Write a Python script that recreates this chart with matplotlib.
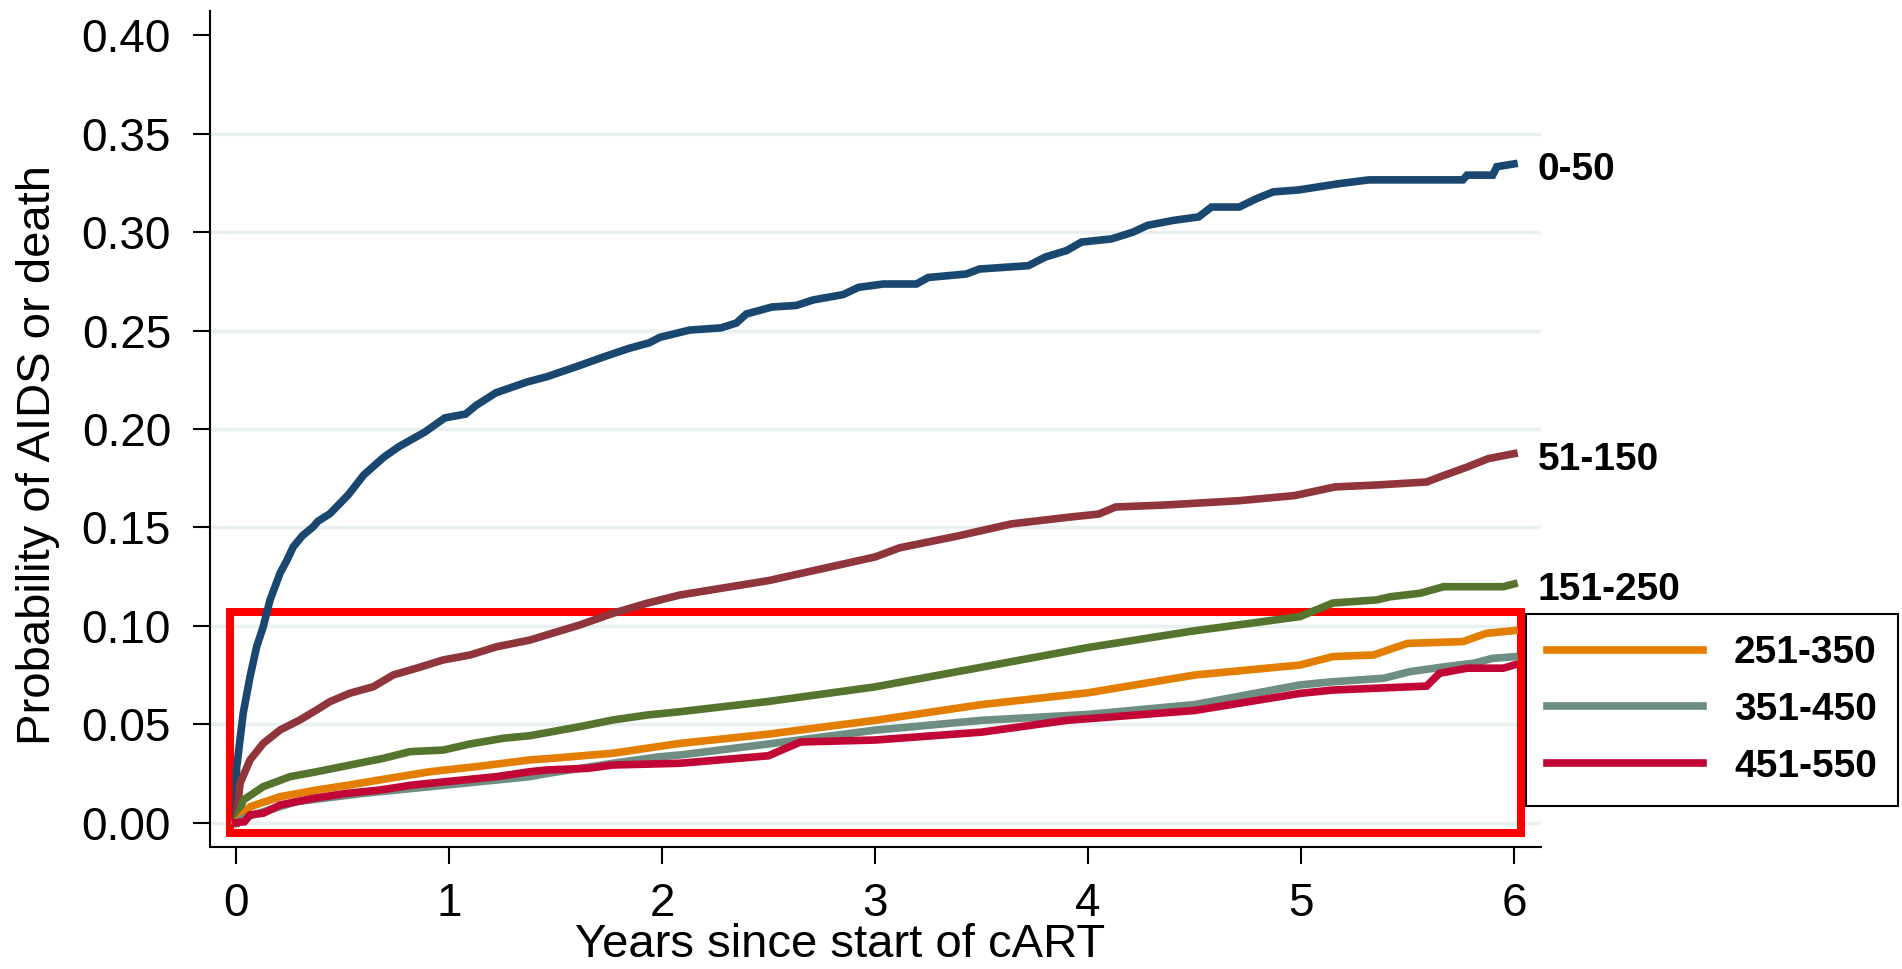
import matplotlib
matplotlib.use("Agg")
import matplotlib.pyplot as plt
from matplotlib.patches import Rectangle
from matplotlib.ticker import FormatStrFormatter

plt.rcParams['font.family'] = ['Liberation Sans', 'DejaVu Sans']

# cumulative probability of AIDS or death by CD4 group
t_0_50 = [0, 0.003, 0.034, 0.066, 0.097, 0.128, 0.16, 0.207, 0.24, 0.269, 0.312, 0.363, 0.384,
          0.441, 0.504, 0.528, 0.60, 0.695, 0.767, 0.887, 0.981, 1.078, 1.127, 1.22, 1.366, 1.46,
          1.606, 1.725, 1.845, 1.94, 1.99, 2.13, 2.277, 2.35, 2.395, 2.516, 2.63, 2.71, 2.85,
          2.923, 3.04, 3.195, 3.25, 3.43, 3.49, 3.72, 3.80, 3.90, 3.97, 4.11, 4.21, 4.28, 4.40,
          4.52, 4.58, 4.71, 4.79, 4.87, 4.99, 5.18, 5.32, 5.76, 5.78, 5.90, 5.92, 6.0]
p_0_50 = [0, 0.028, 0.0557, 0.0742, 0.0894, 0.0996, 0.1132, 0.1268, 0.1335, 0.1402, 0.1458, 0.1504,
          0.1531, 0.157, 0.164, 0.1667, 0.1767, 0.1858, 0.1912, 0.1985, 0.2057, 0.2076, 0.212,
          0.2184, 0.2239, 0.2266, 0.232, 0.2366, 0.241, 0.2438, 0.2466, 0.2503, 0.2514, 0.2539,
          0.2584, 0.262, 0.2628, 0.2656, 0.2683, 0.272, 0.2737, 0.2737, 0.277, 0.2788, 0.2813,
          0.283, 0.2874, 0.2907, 0.295, 0.2966, 0.300, 0.3035, 0.306, 0.3078, 0.3128, 0.3128,
          0.317, 0.3205, 0.3215, 0.3247, 0.3266, 0.3266, 0.329, 0.329, 0.3333, 0.3347]

t_51_150 = [0, 0.019, 0.066, 0.128, 0.207, 0.300, 0.379, 0.441, 0.535, 0.645, 0.739, 0.848, 0.973,
            1.099, 1.224, 1.38, 1.615, 1.77, 1.93, 2.085, 2.5, 3.0, 3.117, 3.39, 3.64, 3.90, 4.05,
            4.13, 4.36, 4.71, 4.97, 5.16, 5.36, 5.59, 5.67, 5.78, 5.88, 6.0]
p_51_150 = [0, 0.020, 0.0319, 0.0403, 0.0471, 0.0522, 0.0573, 0.0615, 0.0658, 0.0691, 0.0751, 0.0785,
            0.0827, 0.0852, 0.0894, 0.0928, 0.1005, 0.1064, 0.1115, 0.1157, 0.123, 0.135, 0.1397,
            0.1457, 0.1518, 0.1551, 0.1568, 0.1604, 0.1614, 0.1636, 0.1662, 0.1706, 0.1716,
            0.1731, 0.1764, 0.1807, 0.185, 0.1875]

t_151_250 = [0, 0.034, 0.128, 0.254, 0.379, 0.535, 0.692, 0.817, 0.973, 1.099, 1.255, 1.38, 1.615,
             1.77, 1.93, 2.085, 2.5, 3.0, 3.5, 4.0, 4.5, 4.995, 5.15, 5.355, 5.42, 5.56, 5.67, 5.95, 6.0]
p_151_250 = [0, 0.0115, 0.0183, 0.0234, 0.0259, 0.0293, 0.0327, 0.0361, 0.0369, 0.040, 0.0429,
             0.0442, 0.0488, 0.0522, 0.0547, 0.0564, 0.0616, 0.069, 0.079, 0.089, 0.0975, 0.1047,
             0.1116, 0.1132, 0.1148, 0.1166, 0.1199, 0.1199, 0.1213]

t_251_350 = [0, 0.066, 0.207, 0.379, 0.535, 0.723, 0.911, 1.13, 1.38, 1.46, 1.77, 2.085, 2.5, 3.0,
             3.5, 4.0, 4.5, 4.995, 5.15, 5.34, 5.50, 5.76, 5.87, 6.0]
p_251_350 = [0, 0.0081, 0.0132, 0.0166, 0.0192, 0.0226, 0.0259, 0.0285, 0.0319, 0.0325, 0.0353,
             0.0403, 0.045, 0.052, 0.060, 0.066, 0.075, 0.0801, 0.0844, 0.0852, 0.0911, 0.092,
             0.0962, 0.0976]

t_351_450 = [0, 0.05, 0.285, 0.598, 0.911, 1.224, 1.38, 1.46, 1.77, 1.99, 2.085, 2.5, 3.0, 3.5, 4.0,
             4.5, 4.995, 5.15, 5.39, 5.51, 5.68, 5.81, 5.90, 6.0]
p_351_450 = [0, 0.003, 0.0107, 0.0149, 0.0183, 0.0217, 0.0234, 0.025, 0.0302, 0.0335, 0.0344, 0.040,
             0.047, 0.052, 0.055, 0.060, 0.070, 0.0716, 0.0734, 0.0767, 0.0793, 0.081, 0.0835, 0.0843]

t_451_550 = [0, 0.04, 0.066, 0.128, 0.207, 0.363, 0.52, 0.676, 0.832, 1.067, 1.224, 1.38, 1.46, 1.65,
             1.77, 2.085, 2.5, 2.65, 3.0, 3.5, 3.9, 4.5, 4.995, 5.15, 5.59, 5.65, 5.78, 5.95, 6.0]
p_451_550 = [0, 0.0005, 0.004, 0.0048, 0.009, 0.0124, 0.0149, 0.0166, 0.0192, 0.0217, 0.0234, 0.0259,
             0.0268, 0.0276, 0.0293, 0.0302, 0.034, 0.041, 0.042, 0.046, 0.052, 0.057, 0.0657,
             0.0674, 0.0694, 0.0759, 0.0785, 0.0785, 0.0801]

groups = ['0-50', '51-150', '151-250', '251-350', '351-450', '451-550']
times = [t_0_50, t_51_150, t_151_250, t_251_350, t_351_450, t_451_550]
probs = [p_0_50, p_51_150, p_151_250, p_251_350, p_351_450, p_451_550]
colors = ['#1a476f', '#90353b', '#55752f', '#e37e00', '#6e8e84', '#c10534']

x_ticks = [0, 1, 2, 3, 4, 5, 6]
y_ticks = [0.00, 0.05, 0.10, 0.15, 0.20, 0.25, 0.30, 0.35, 0.40]

W, H = 1902, 969
fig = plt.figure(figsize=(W / 100, H / 100), dpi=100)
ax = fig.add_axes([210 / W, 1 - 847 / H, 1331 / W, 836 / H])

lines = []
for g, t, p, c in zip(groups, times, probs, colors):
    ln, = ax.plot(t, p, color=c, lw=5.5, label=g, zorder=3, solid_joinstyle='miter')
    lines.append(ln)

# labels at the end of the top three curves
for g, t, p in zip(groups[:3], times[:3], probs[:3]):
    ax.annotate(g, xy=(t[-1], p[-1]), xytext=(17, -4.5), textcoords='offset points',
                ha='left', va='center', fontsize=28, fontweight='bold',
                annotation_clip=False)

# highlight box around the low-risk groups
ax.add_patch(Rectangle((-0.028, -0.0052), 6.061, 0.1122, fill=False, ec='#ff0000',
                       lw=5.8, joinstyle='miter', clip_on=False, zorder=2))

ax.set_xlim(-0.122, 6.127)
ax.set_ylim(-0.01235, 0.4124)
ax.set_xticks(x_ticks)
ax.set_yticks(y_ticks)
ax.yaxis.set_major_formatter(FormatStrFormatter('%.2f'))
ax.tick_params(axis='both', labelsize=33, length=12, width=1.5, color='black')
ax.tick_params(axis='y', pad=16)
ax.tick_params(axis='x', pad=13)

ax.grid(axis='y', color='#e8f0f2', lw=2.5, zorder=0)
ax.get_ygridlines()[-1].set_visible(False)
ax.set_axisbelow(True)

for s in ['top', 'right']:
    ax.spines[s].set_visible(False)
for s in ['left', 'bottom']:
    ax.spines[s].set_linewidth(1.5)

ax.set_ylabel('Probability of AIDS or death', fontsize=34)
ax.yaxis.set_label_coords(-0.1127, 0.469)
ax.set_xlabel('Years since start of cART', fontsize=34)
ax.xaxis.set_label_coords(0.4733, -0.091)

leg = fig.legend(handles=lines[3:], loc='upper left', bbox_to_anchor=(1526 / W, 1 - 614 / H),
                 frameon=True, fancybox=False, framealpha=1, edgecolor='black',
                 borderpad=0.55, handlelength=4.0, handletextpad=0.8, labelspacing=0.53,
                 borderaxespad=0, prop={'size': 28, 'weight': 'bold'})
leg.get_frame().set_linewidth(1.5)

fig.savefig('out.png', dpi=100)
